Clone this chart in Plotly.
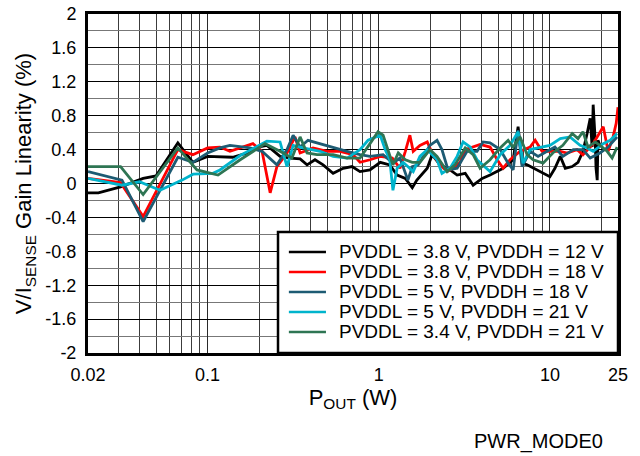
import plotly.graph_objects as go

# P_OUT (W) and gain linearity (%) for each supply setting
x_38_12 = [0.02, 0.023, 0.031, 0.042, 0.05, 0.067, 0.082, 0.1, 0.14, 0.17, 0.197, 0.222,
           0.265, 0.303, 0.347, 0.381, 0.424, 0.473, 0.541, 0.619, 0.698, 0.777, 0.889,
           1.02, 1.16, 1.28, 1.43, 1.57, 1.67, 1.92, 2.05, 2.28, 2.61, 2.87, 3.2, 3.56,
           4.02, 4.47, 5.33, 6.1, 6.52, 6.88, 7.36, 8.42, 10.0, 10.7, 11.5, 12.3, 13.5,
           14.6, 15.6, 16.5, 17.2, 17.65, 17.9, 18.4, 18.6, 18.9, 19.1, 19.6]
y_38_12 = [-0.11, -0.11, -0.04, 0.06, 0.09, 0.48, 0.25, 0.32, 0.31, 0.36, 0.43, 0.45,
           0.32, 0.30, 0.29, 0.22, 0.28, 0.22, 0.12, 0.18, 0.20, 0.14, 0.16,
           0.25, 0.22, 0.10, 0.06, -0.05, 0.04, 0.18, 0.34, 0.22, 0.16, 0.10, 0.12, -0.02,
           0.06, 0.10, 0.18, 0.28, 0.67, 0.24, 0.22, 0.16, 0.08, 0.18, 0.32, 0.18, 0.20,
           0.25, 0.38, 0.59, 0.77, 0.43, 0.93, 0.51, 0.18, 0.04, 0.51, 0.45]

x_38_18 = [0.02, 0.031, 0.042, 0.067, 0.082, 0.1, 0.118, 0.135, 0.184, 0.208, 0.232,
           0.254, 0.291, 0.324, 0.347, 0.413, 0.499, 0.594, 0.708, 0.777, 0.889, 1.02,
           1.2, 1.33, 1.43, 1.52, 1.59, 1.74, 1.92, 2.05, 2.28, 2.51, 2.72, 2.99, 3.2,
           3.51, 3.91, 4.47, 4.92, 5.33, 5.85, 6.7, 7.66, 8.2, 9.0, 10.0, 11.5, 12.6,
           14.4, 15.6, 17.9, 20.5, 21.9, 23.4, 24.4, 25]
y_38_18 = [0.06, 0.01, -0.39, 0.40, 0.34, 0.42, 0.43, 0.38, 0.47, 0.38, -0.11,
           0.20, 0.36, 0.55, 0.36, 0.42, 0.38, 0.38, 0.34, 0.25, 0.28, 0.32,
           0.30, 0.18, 0.38, 0.57, 0.38, 0.45, 0.49, 0.36, 0.22, 0.14, 0.18, 0.25, 0.40,
           0.43, 0.46, 0.43, 0.28, 0.18, 0.28, 0.38, 0.43, 0.51, 0.38, 0.38, 0.38, 0.36,
           0.40, 0.34, 0.47, 0.67, 0.38, 0.55, 0.71, 0.90]

x_5_18 = [0.02, 0.0316, 0.042, 0.067, 0.082, 0.1, 0.118, 0.135, 0.177, 0.208, 0.254,
          0.291, 0.316, 0.347, 0.386, 0.454, 0.541, 0.653, 0.777, 0.889, 1.06, 1.21,
          1.33, 1.48, 1.57, 1.7, 1.99, 2.19, 2.34, 2.54, 2.87, 3.28, 3.75, 4.07, 4.47,
          5.12, 5.7, 6.1, 6.52, 6.88, 7.66, 8.53, 9.63, 10.7, 11.9, 13.7, 15.6, 17.2,
          19.6, 21.9, 24.7]
y_5_18 = [0.14, 0.04, -0.45, 0.31, 0.25, 0.36, 0.42, 0.45, 0.42, 0.38, 0.22,
          0.40, 0.57, 0.43, 0.51, 0.47, 0.42, 0.38, 0.34, 0.32, 0.34, 0.24,
          0.30, 0.04, 0.20, 0.22, 0.45, 0.51, 0.40, 0.16, 0.18, 0.38, 0.38, 0.49, 0.48,
          0.40, 0.24, 0.16, 0.63, 0.20, 0.38, 0.32, 0.38, 0.43, 0.32, 0.40, 0.40, 0.30,
          0.36, 0.43, 0.55]

x_5_21 = [0.02, 0.0316, 0.04, 0.0527, 0.0709, 0.0822, 0.1075, 0.118, 0.155, 0.222,
          0.265, 0.291, 0.316, 0.361, 0.454, 0.541, 0.653, 0.777, 0.866, 1.02, 1.09,
          1.16, 1.21, 1.28, 1.39, 1.59, 1.74, 1.92, 2.19, 2.34, 2.61, 2.87, 3.11, 3.42,
          3.75, 4.07, 4.47, 5.12, 5.85, 6.52, 6.97, 7.66, 8.77, 10.0, 11.5, 13.1, 15.0,
          16.5, 17.9, 20.5, 22.5, 24.7]
y_5_21 = [0.06, -0.02, 0.02, -0.08, 0.04, 0.11, 0.12, 0.16, 0.33, 0.50,
          0.49, 0.20, 0.45, 0.42, 0.38, 0.32, 0.30, 0.40, 0.51, 0.57, 0.40,
          0.28, -0.08, 0.18, 0.25, 0.14, 0.32, 0.40, 0.28, 0.12, 0.18, 0.32, 0.49, 0.43,
          0.28, 0.22, 0.14, 0.34, 0.45, 0.61, 0.24, 0.40, 0.43, 0.45, 0.53, 0.55, 0.45,
          0.42, 0.38, 0.47, 0.51, 0.59]

x_34_21 = [0.02, 0.031, 0.042, 0.067, 0.0867, 0.115, 0.155, 0.2165, 0.265, 0.311,
           0.347, 0.381, 0.436, 0.541, 0.653, 0.777, 0.889, 0.99, 1.06, 1.13, 1.21,
           1.3, 1.43, 1.57, 1.74, 1.99, 2.19, 2.51, 2.79, 3.2, 3.56, 3.91, 4.47, 5.12,
           5.7, 6.1, 6.7, 7.36, 7.98, 9.13, 10.4, 11.9, 13.5, 14.6, 15.6, 16.7, 18.4,
           20.2, 21.6, 23.1, 24.05, 24.7]
y_34_21 = [0.20, 0.20, -0.13, 0.42, 0.16, 0.10, 0.28, 0.47, 0.38, 0.30,
           0.55, 0.36, 0.34, 0.34, 0.30, 0.30, 0.47, 0.61, 0.57, 0.40, 0.22,
           0.36, 0.28, 0.25, 0.25, 0.40, 0.32, 0.14, 0.22, 0.42, 0.34, 0.18, 0.28, 0.42,
           0.51, 0.43, 0.55, 0.34, 0.28, 0.24, 0.36, 0.45, 0.59, 0.53, 0.61, 0.43, 0.49,
           0.43, 0.38, 0.30, 0.38, 0.43]

series = [
    ("PVDDL = 3.8 V, PVDDH = 12 V", x_38_12, y_38_12, "#000000"),
    ("PVDDL = 3.8 V, PVDDH = 18 V", x_38_18, y_38_18, "#ff0000"),
    ("PVDDL = 5 V, PVDDH = 18 V", x_5_18, y_5_18, "#1d5b73"),
    ("PVDDL = 5 V, PVDDH = 21 V", x_5_21, y_5_21, "#00b4cc"),
    ("PVDDL = 3.4 V, PVDDH = 21 V", x_34_21, y_34_21, "#2e7553"),
]

x_major = [0.02, 0.1, 1, 10, 25]
x_major_text = ["0.02", "0.1", "1", "10", "25"]
x_minor = [0.03, 0.04, 0.05, 0.06, 0.07, 0.08, 0.09,
           0.2, 0.3, 0.4, 0.5, 0.6, 0.7, 0.8, 0.9,
           2, 3, 4, 5, 6, 7, 8, 9, 20]
y_major = [-2, -1.6, -1.2, -0.8, -0.4, 0, 0.4, 0.8, 1.2, 1.6, 2]
y_major_text = ["-2", "-1.6", "-1.2", "-0.8", "-0.4", "0", "0.4", "0.8", "1.2", "1.6", "2"]
y_minor = [-1.8, -1.4, -1.0, -0.6, -0.2, 0.2, 0.6, 1.0, 1.4, 1.8]

FONT = "Liberation Sans, Arial, sans-serif"

fig = go.Figure()
for name, xs, ys, color in series:
    fig.add_trace(go.Scatter(x=xs, y=ys, mode="lines", name=name, showlegend=False,
                             line=dict(color=color, width=2.8)))

fig.update_xaxes(
    type="log", range=[-1.69897, 1.39794], automargin=False,
    tickmode="array", tickvals=x_major, ticktext=x_major_text,
    ticks="outside", ticklen=3, tickcolor="rgba(0,0,0,0)", ticklabeloverflow="allow",
    showgrid=True, gridcolor="#2a2a2a", gridwidth=1,
    minor=dict(tickmode="array", tickvals=x_minor, showgrid=True,
               gridcolor="#3c3c3c", gridwidth=1),
    showline=True, linecolor="black", linewidth=3, mirror=True,
    zeroline=False,
    title=dict(text="P<sub>OUT</sub> (W)", standoff=0),
    tickfont=dict(size=18),
)
fig.update_yaxes(
    range=[-2, 2], automargin=False,
    tickmode="array", tickvals=y_major, ticktext=y_major_text,
    ticks="outside", ticklen=5, tickcolor="rgba(0,0,0,0)", ticklabeloverflow="allow",
    showgrid=True, gridcolor="#000000", gridwidth=1,
    minor=dict(tickmode="array", tickvals=y_minor, showgrid=True,
               gridcolor="#777777", gridwidth=1),
    showline=True, linecolor="black", linewidth=3, mirror=True,
    zeroline=False,
    title=dict(text="V/I<sub>SENSE</sub> Gain Linearity (%)", standoff=8),
    tickfont=dict(size=18),
)

# legend box drawn by hand so the rows sit as tightly as in the reference
fig.add_shape(type="rect", xref="paper", yref="paper", x0=0.3585, x1=1.0, y0=0.0, y1=0.357,
              fillcolor="white", line=dict(color="black", width=2.5), layer="above")
row_y = [0.298, 0.239, 0.180, 0.121, 0.062]
for (name, _, _, color), ry in zip(series, row_y):
    fig.add_shape(type="line", xref="paper", yref="paper", x0=0.379, x1=0.449, y0=ry, y1=ry,
                  line=dict(color=color, width=2.5), layer="above")
    fig.add_annotation(text=name, xref="paper", yref="paper", x=0.4698, y=ry,
                       xanchor="left", yanchor="middle", showarrow=False,
                       font=dict(size=19, color="black"))

fig.add_annotation(text="PWR_MODE0", xref="paper", yref="paper",
                   x=0.9755, y=-0.2625, xanchor="right", yanchor="middle",
                   showarrow=False, font=dict(size=20, color="black"))

fig.update_layout(
    width=640, height=456,
    margin=dict(l=88, r=22, t=14, b=103),
    paper_bgcolor="white", plot_bgcolor="white",
    font=dict(family=FONT, size=18, color="black"),
    showlegend=False,
)

# drop the browser's default 8px body margin so the figure fills the window
fig.write_html("out.html", config={"displayModeBar": False},
               post_script="document.body.style.margin = '0';")
